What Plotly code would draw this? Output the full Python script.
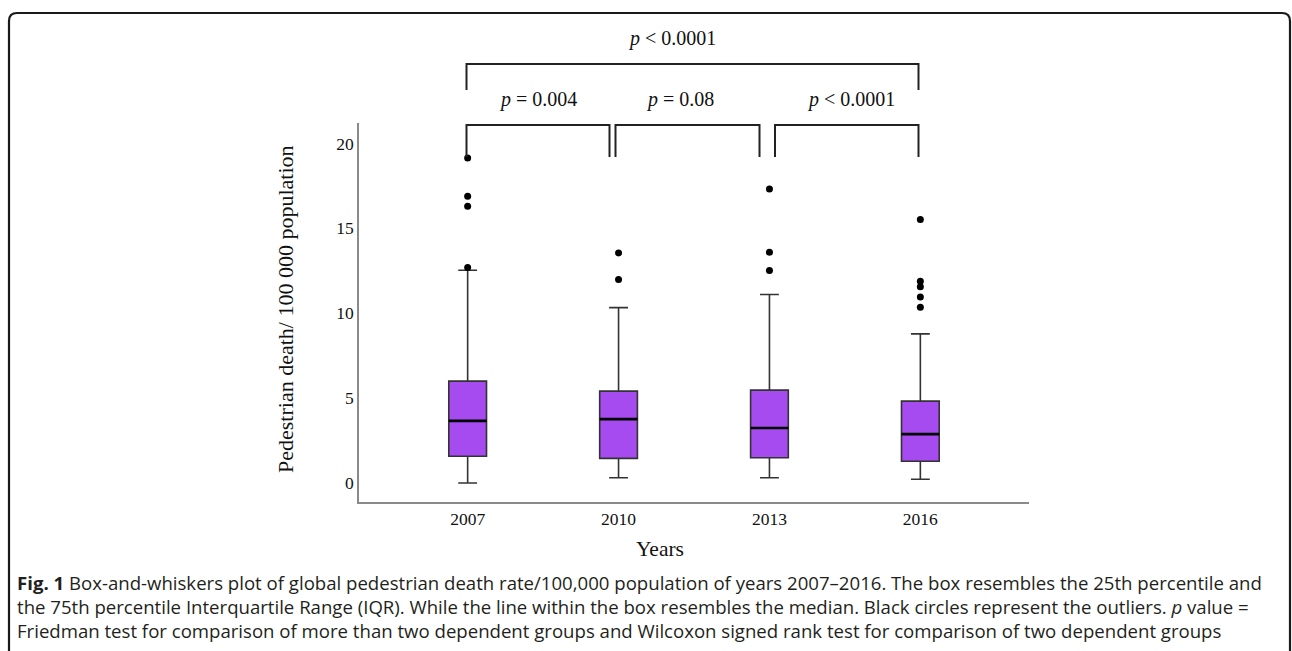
import plotly.graph_objects as go

# ---- data ----
years = ["2007", "2010", "2013", "2016"]
q1 = [1.57, 1.45, 1.49, 1.28]
median = [3.66, 3.76, 3.24, 2.88]
q3 = [6.00, 5.41, 5.47, 4.82]
lower_whisker = [0.0, 0.31, 0.31, 0.22]
upper_whisker = [12.53, 10.33, 11.10, 8.78]
outliers_2007 = [19.14, 16.88, 16.29, 12.69]
outliers_2010 = [13.55, 11.98]
outliers_2013 = [17.31, 13.59, 12.51]
outliers_2016 = [15.51, 11.88, 11.55, 10.96, 10.35]
outliers = [outliers_2007, outliers_2010, outliers_2013, outliers_2016]
yticks = [0, 5, 10, 15, 20]
p_labels = ["<i>p</i> < 0.0001", "<i>p</i> = 0.004", "<i>p</i> = 0.08", "<i>p</i> < 0.0001"]

# ---- layout geometry ----
W, H = 1292, 651
L, R, T, B = 359, 263, 123, 149
PW, PH = W - L - R, H - T - B


def px(x):
    return (x - L) / PW


def py(y):
    return (H - B - y) / PH


SERIF = "Liberation Serif, Times New Roman, serif"
SANS = "Open Sans, sans-serif"
BOXW = 0.25
pos = list(range(len(years)))

fig = go.Figure()

fig.add_trace(go.Box(
    x=pos, q1=q1, median=median, q3=q3,
    lowerfence=lower_whisker, upperfence=upper_whisker,
    width=BOXW, whiskerwidth=0.5,
    fillcolor="#A64BF0", line=dict(color="#333333", width=1.6),
    boxpoints=False, showlegend=False, hoverinfo="skip",
))

# thicker black median lines
mx, my = [], []
for p, m in zip(pos, median):
    mx += [p - BOXW / 2, p + BOXW / 2, None]
    my += [m, m, None]
fig.add_trace(go.Scatter(x=mx, y=my, mode="lines",
                         line=dict(color="black", width=2.6),
                         showlegend=False, hoverinfo="skip"))

# outliers
ox, oy = [], []
for p, vals in zip(pos, outliers):
    ox += [p] * len(vals)
    oy += vals
fig.add_trace(go.Scatter(x=ox, y=oy, mode="markers",
                         marker=dict(color="black", size=7),
                         showlegend=False, hoverinfo="skip",
                         cliponaxis=False))

shapes = []
line_st = dict(color="#222222", width=2)


def bracket(x0, x1, ytop, ybot):
    path = f"M {px(x0)},{py(ybot)} L {px(x0)},{py(ytop)} L {px(x1)},{py(ytop)} L {px(x1)},{py(ybot)}"
    shapes.append(dict(type="path", xref="paper", yref="paper", path=path, line=line_st))


bracket(466.5, 918.5, 64, 90)
bracket(466.5, 609.5, 125, 157)
bracket(615.5, 759.5, 125, 157)
bracket(775, 918.5, 125, 157)

# rounded figure border
r = 8
bx0, bx1, by0, by1 = 9, 1290, 13, 680
border = (f"M {px(bx0)},{py(by1)} L {px(bx0)},{py(by0 + r)} "
          f"Q {px(bx0)},{py(by0)} {px(bx0 + r)},{py(by0)} "
          f"L {px(bx1 - r)},{py(by0)} Q {px(bx1)},{py(by0)} {px(bx1)},{py(by0 + r)} "
          f"L {px(bx1)},{py(by1)}")
shapes.append(dict(type="path", xref="paper", yref="paper", path=border,
                   line=dict(color="#1a1a1a", width=2.2)))

annotations = []
for (cx, cy), txt in zip([(672, 38), (537.5, 100), (680, 100), (851, 100)], p_labels):
    annotations.append(dict(x=px(cx), y=py(cy), xref="paper", yref="paper", text=txt,
                            showarrow=False, xanchor="center", yanchor="middle",
                            font=dict(family=SERIF, size=20, color="#111111")))

annotations.append(dict(x=px(285), y=py(309), xref="paper", yref="paper",
                        text="Pedestrian death/ 100 000 population", textangle=-90,
                        showarrow=False, xanchor="center", yanchor="middle",
                        font=dict(family=SERIF, size=22, color="#111111")))
annotations.append(dict(x=px(660), y=py(549), xref="paper", yref="paper", text="Years",
                        showarrow=False, xanchor="center", yanchor="middle",
                        font=dict(family=SERIF, size=21.5, color="#111111")))

caption = [
    "<b>Fig. 1</b> Box-and-whiskers plot of global pedestrian death rate/100,000 population of years 2007\u20132016. The box resembles the 25th percentile and",
    "the 75th percentile Interquartile Range (IQR). While the line within the box resembles the median. Black circles represent the outliers. <i>p</i> value =",
    "Friedman test for comparison of more than two dependent groups and Wilcoxon signed rank test for comparison of two dependent groups",
]
annotations.append(dict(x=px(15), y=py(606), xref="paper", yref="paper",
                        text="<br>".join(caption), showarrow=False, align="left",
                        xanchor="left", yanchor="middle",
                        font=dict(family=SANS, size=18.6, color="#231f20")))

fig.update_layout(
    width=W, height=H,
    margin=dict(l=L, r=R, t=T, b=B, pad=0),
    paper_bgcolor="white", plot_bgcolor="white",
    shapes=shapes, annotations=annotations,
    xaxis=dict(range=[-0.72, 3.72], tickvals=pos, ticktext=years,
               showgrid=False, zeroline=False, showline=True,
               linecolor="#8a8a8a", linewidth=1.5, ticks="",
               tickfont=dict(family=SERIF, size=17.5, color="#111111")),
    yaxis=dict(range=[-1.12, 21.2], tickvals=yticks,
               showgrid=False, zeroline=False, showline=True,
               linecolor="#8a8a8a", linewidth=1.5, ticks="",
               tickfont=dict(family=SERIF, size=17.5, color="#111111")),
)

fig.write_html("out.html")
